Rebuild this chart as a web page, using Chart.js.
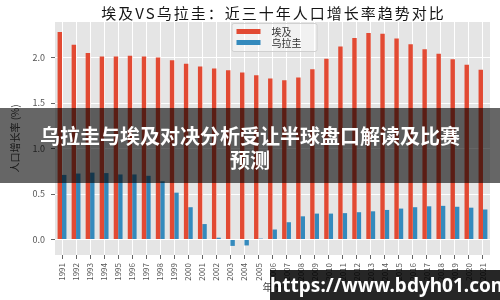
<!DOCTYPE html>
<html>
<head>
<meta charset="utf-8">
<script src="https://cdn.jsdelivr.net/npm/chart.js@4.4.1/dist/chart.umd.min.js"></script>
<style>
  body { margin: 0; background: #fff; }
  #wrap { position: relative; width: 500px; height: 300px; overflow: hidden; }
  #banner {
    position: absolute; left: 0; top: 108px; width: 500px; height: 75px;
    box-sizing: border-box; padding-top: 16px;
    background: rgba(0, 0, 0, 0.6); color: #fff;
    font-family: "Noto Sans CJK SC", sans-serif; font-weight: bold;
    font-size: 20px; line-height: 24px; text-align: center;
  }
  #mark {
    position: absolute; left: 270px; top: 270px; width: 230px; height: 30px;
    background: rgba(0, 0, 0, 0.85); color: #fff;
    font-family: "Noto Sans", sans-serif; font-weight: bold;
    font-size: 19px; line-height: 30px; text-align: center;
  }
</style>
</head>
<body>
<div id="wrap">
  <canvas id="popChart" width="500" height="300"></canvas>
  <div id="banner">乌拉圭与埃及对决分析受让半球盘口解读及比赛<br>预测</div>
  <div id="mark">https://www.bdyh01.com</div>
</div>
<script>
const years = ['1991', '1992', '1993', '1994', '1995', '1996', '1997', '1998', '1999', '2000',
               '2001', '2002', '2003', '2004', '2005', '2006', '2007', '2008', '2009', '2010',
               '2011', '2012', '2013', '2014', '2015', '2016', '2017', '2018', '2019', '2020', '2021'];
const egypt = [2.28, 2.14, 2.05, 2.01, 2.01, 2.02, 2.01, 2.00, 1.97, 1.93,
               1.90, 1.88, 1.86, 1.835, 1.805, 1.77, 1.75, 1.78, 1.87, 1.985,
               2.12, 2.215, 2.27, 2.26, 2.21, 2.145, 2.09, 2.04, 1.98, 1.92, 1.865];
const uruguay = [0.71, 0.725, 0.735, 0.73, 0.715, 0.715, 0.70, 0.64, 0.515, 0.355,
                 0.17, 0.02, -0.07, -0.065, 0.01, 0.11, 0.19, 0.255, 0.285, 0.285,
                 0.29, 0.30, 0.31, 0.325, 0.34, 0.355, 0.365, 0.37, 0.36, 0.35, 0.33];
const yTicks = [0, 0.5, 1.0, 1.5, 2.0];

const CJK = '"Noto Sans CJK SC", sans-serif';
const chartTitle = '埃及VS乌拉圭：近三十年人口增长率趋势对比';

// gray panel behind the grid (ggplot look)
const panelBg = {
    id: 'panelBg',
    beforeDraw(chart) {
        const { ctx, chartArea: a } = chart;
        ctx.save();
        ctx.fillStyle = '#E5E5E5';
        ctx.fillRect(a.left, a.top, a.right - a.left, a.bottom - a.top);
        ctx.restore();
    }
};

// title + legend box drawn on top
const overlay = {
    id: 'overlay',
    afterDraw(chart) {
        const { ctx, chartArea: a } = chart;
        const cx = (a.left + a.right) / 2;
        ctx.save();
        ctx.fillStyle = '#151515';
        ctx.font = '15px ' + CJK;
        ctx.letterSpacing = '2px';
        ctx.textAlign = 'center';
        ctx.textBaseline = 'middle';
        ctx.fillText(chartTitle, cx + 1, 13);
        ctx.letterSpacing = '0px';

        // legend
        const lx = cx - 41, ly = a.top + 1, lw = 85, lh = 28;
        ctx.fillStyle = 'rgba(255,255,255,0.45)';
        ctx.strokeStyle = '#D0D0D0';
        ctx.lineWidth = 1;
        ctx.beginPath();
        ctx.roundRect(lx + 0.5, ly + 0.5, lw, lh, 2);
        ctx.fill();
        ctx.stroke();
        ctx.font = '10px ' + CJK;
        ctx.textAlign = 'left';
        chart.data.datasets.forEach((ds, i) => {
            const y = ly + 8 + i * 11;
            ctx.fillStyle = ds.backgroundColor;
            ctx.fillRect(lx + 5, y - 2, 24, 5);
            ctx.fillStyle = '#333';
            ctx.fillText(ds.label, lx + 40, y + 1);
        });
        ctx.restore();
    }
};

const ctx = document.getElementById('popChart').getContext('2d');
new Chart(ctx, {
    type: 'bar',
    data: {
        labels: years,
        datasets: [
            { label: '埃及', data: egypt, backgroundColor: '#E24A33' },
            { label: '乌拉圭', data: uruguay, backgroundColor: '#348ABD' }
        ]
    },
    options: {
        responsive: false,
        animation: false,
        layout: { padding: { top: 22, right: 10, left: 0, bottom: 0 } },
        datasets: { bar: { categoryPercentage: 0.63, barPercentage: 1.0 } },
        plugins: {
            legend: { display: false },
            title: { display: false },
            tooltip: { enabled: false }
        },
        scales: {
            x: {
                offset: true,
                border: { display: false },
                grid: { color: '#fff', lineWidth: 1, offset: false, tickLength: 4, tickColor: '#666' },
                ticks: { minRotation: 90, maxRotation: 90, autoSkip: false, padding: 4,
                         color: '#555', font: { size: 8, family: CJK } },
                title: { display: true, text: '年份', color: '#444',
                         font: { size: 10, family: CJK }, padding: { top: 7, bottom: 7 } },
                afterFit: s => { s.height = 45; }
            },
            y: {
                min: -0.17,
                max: 2.39,
                border: { display: false },
                grid: { color: '#fff', lineWidth: 1, tickLength: 4, tickColor: '#666' },
                afterBuildTicks: s => { s.ticks = yTicks.map(v => ({ value: v })); },
                ticks: { padding: 6, color: '#555', font: { size: 9, family: CJK },
                         callback: v => v.toFixed(1) },
                title: { display: true, text: '人口增长率 (%)', color: '#444',
                         font: { size: 10, family: CJK }, padding: { top: 9, bottom: 9 } },
                afterFit: s => { s.width = 55; }
            }
        }
    },
    plugins: [panelBg, overlay]
});
</script>
</body>
</html>
